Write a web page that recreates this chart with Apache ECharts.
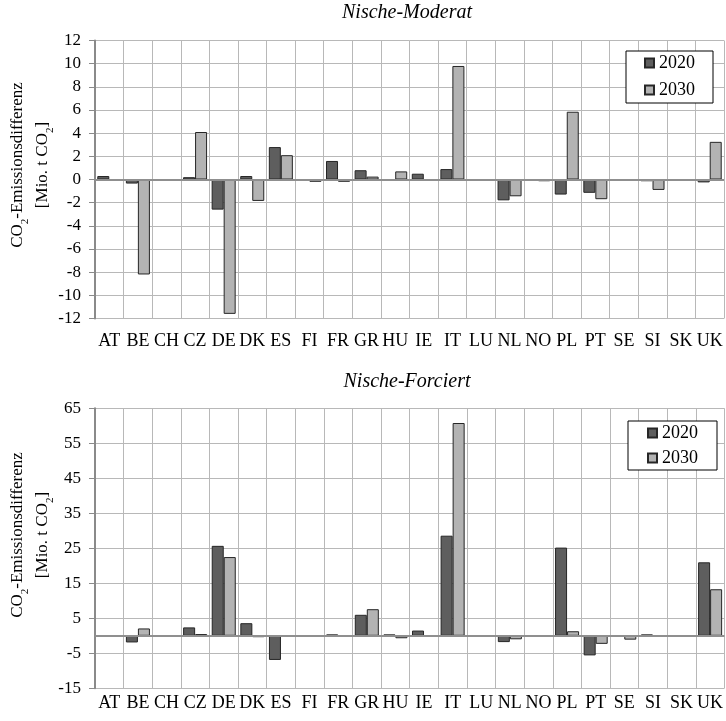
<!DOCTYPE html>
<html>
<head>
<meta charset="utf-8">
<script src="https://cdn.jsdelivr.net/npm/echarts@6/dist/echarts.min.js"></script>
<style>
  html, body { margin: 0; padding: 0; background: #fff; }
  #chart { width: 726px; height: 721px; }
</style>
</head>
<body>
<div id="chart"></div>
<script>
// Country codes along the category axis
const countries = ['AT','BE','CH','CZ','DE','DK','ES','FI','FR','GR','HU','IE','IT','LU','NL','NO','PL','PT','SE','SI','SK','UK'];

// Scenario "Nische-Moderat": CO2 emission difference [Mio. t CO2]
const moderat2020 = [0.3, -0.35, 0, 0.2, -2.6, 0.3, 2.8, -0.1, 1.6, 0.8, 0, 0.5, 0.9, 0, -1.8, -0.05, -1.3, -1.15, 0, -0.15, 0, -0.25];
const moderat2030 = [0, -8.2, -0.1, 4.1, -11.6, -1.85, 2.1, -0.2, -0.2, 0.25, 0.7, -0.1, 9.8, 0, -1.45, -0.15, 5.85, -1.7, 0, -0.9, 0, 3.25];

// Scenario "Nische-Forciert": CO2 emission difference [Mio. t CO2]
const forciert2020 = [0, -1.9, 0, 2.4, 25.7, 3.6, -6.9, 0, 0.4, 6.0, 0.4, 1.5, 28.6, 0, -1.8, 0, 25.2, -5.6, 0, 0.4, -0.2, 21.0];
const forciert2030 = [-0.1, 2.1, 0, 0.5, 22.5, -0.4, -0.2, -0.1, -0.1, 7.6, -0.7, 0, 60.8, 0, -1.0, -0.2, 1.3, -2.3, -1.1, 0, -0.2, 13.3];

const years = ['2020', '2030'];
const titles = ['Nische-Moderat', 'Nische-Forciert'];

const FONT = "'Liberation Serif', 'Times New Roman', serif";
const GRID_COLOR = '#b8b8b8';
const AXIS_COLOR = '#8a8a8a';
const DARK = '#5e5e5e';
const LIGHT = '#b3b3b3';
const EDGE = '#262626';

const chart = echarts.init(document.getElementById('chart'), null, { renderer: 'canvas' });

function xAxisFor(gridIndex, margin) {
  return {
    type: 'category',
    gridIndex: gridIndex,
    data: countries,
    boundaryGap: true,
    axisLine: { show: false },
    axisTick: { show: false },
    axisLabel: { interval: 0, margin: margin, color: '#000', fontFamily: FONT, fontSize: 18 },
    splitLine: { show: true, interval: 0, lineStyle: { color: GRID_COLOR, width: 1 } }
  };
}

function yAxisFor(gridIndex, min, max, interval) {
  return {
    type: 'value',
    gridIndex: gridIndex,
    min: min, max: max, interval: interval,
    axisLine: { show: true, lineStyle: { color: AXIS_COLOR, width: 2 } },
    axisTick: { show: true, length: 6, lineStyle: { color: AXIS_COLOR, width: 1 } },
    axisLabel: { margin: 14, color: '#000', fontFamily: FONT, fontSize: 17 },
    splitLine: { show: true, lineStyle: { color: GRID_COLOR, width: 1 } }
  };
}

function barSeries(name, data, color, idx, withZero) {
  const s = {
    name: name,
    type: 'bar',
    xAxisIndex: idx,
    yAxisIndex: idx,
    data: data,
    barGap: '0%',
    barCategoryGap: '16%',
    itemStyle: { color: color, borderColor: EDGE, borderWidth: 1 },
    emphasis: { disabled: true },
    animation: false
  };
  if (withZero) {
    s.markLine = {
      silent: true,
      symbol: 'none',
      label: { show: false },
      lineStyle: { color: '#8f8f8f', width: 2, type: 'solid' },
      data: [{ yAxis: 0 }],
      animation: false
    };
  }
  return s;
}

function legendFor(left, top, padding, gap) {
  return {
    data: years,
    orient: 'vertical',
    left: left, top: top,
    padding: padding,
    itemGap: gap,
    itemWidth: 9, itemHeight: 9,
    icon: 'rect',
    borderColor: '#000', borderWidth: 1,
    backgroundColor: '#fff',
    selectedMode: false,
    textStyle: { color: '#000', fontFamily: FONT, fontSize: 18, lineHeight: 18 }
  };
}

const yName = '{a|CO}{s|2}{a|-Emissionsdifferenz}\n{a|[Mio. t CO}{s|2}{a|]}';
const yNameRich = {
  a: { fontFamily: FONT, fontSize: 17, lineHeight: 25, fill: '#000' },
  s: { fontFamily: FONT, fontSize: 11, lineHeight: 14, verticalAlign: 'bottom', fill: '#000' }
};

chart.setOption({
  backgroundColor: '#fff',
  animation: false,
  title: [
    { text: titles[0], left: 407, top: 3, textAlign: 'center', padding: 0,
      textStyle: { fontFamily: FONT, fontStyle: 'italic', fontWeight: 'normal', fontSize: 20, color: '#000' } },
    { text: titles[1], left: 407, top: 372, textAlign: 'center', padding: 0,
      textStyle: { fontFamily: FONT, fontStyle: 'italic', fontWeight: 'normal', fontSize: 20, color: '#000' } }
  ],
  legend: [
    legendFor(626, 51, [3, 18, 4, 18], 9),
    legendFor(628, 421, [3, 19, 3, 19], 7)
  ],
  grid: [
    { left: 95, top: 40.5, width: 629, height: 278 },
    { left: 95, top: 408.3, width: 634.7, height: 280 }
  ],
  xAxis: [xAxisFor(0, 14), xAxisFor(1, 6)],
  yAxis: [yAxisFor(0, -12, 12, 2), yAxisFor(1, -15, 65, 10)],
  series: [
    barSeries(years[0], moderat2020, DARK, 0, true),
    barSeries(years[1], moderat2030, LIGHT, 0, false),
    barSeries(years[0], forciert2020, DARK, 1, true),
    barSeries(years[1], forciert2030, LIGHT, 1, false)
  ],
  graphic: [
    { type: 'text', x: 30.5, y: 165, rotation: Math.PI / 2, silent: true,
      style: { text: yName, rich: yNameRich, align: 'center', verticalAlign: 'middle' } },
    { type: 'text', x: 30.5, y: 535, rotation: Math.PI / 2, silent: true,
      style: { text: yName, rich: yNameRich, align: 'center', verticalAlign: 'middle' } }
  ]
});
</script>
</body>
</html>
